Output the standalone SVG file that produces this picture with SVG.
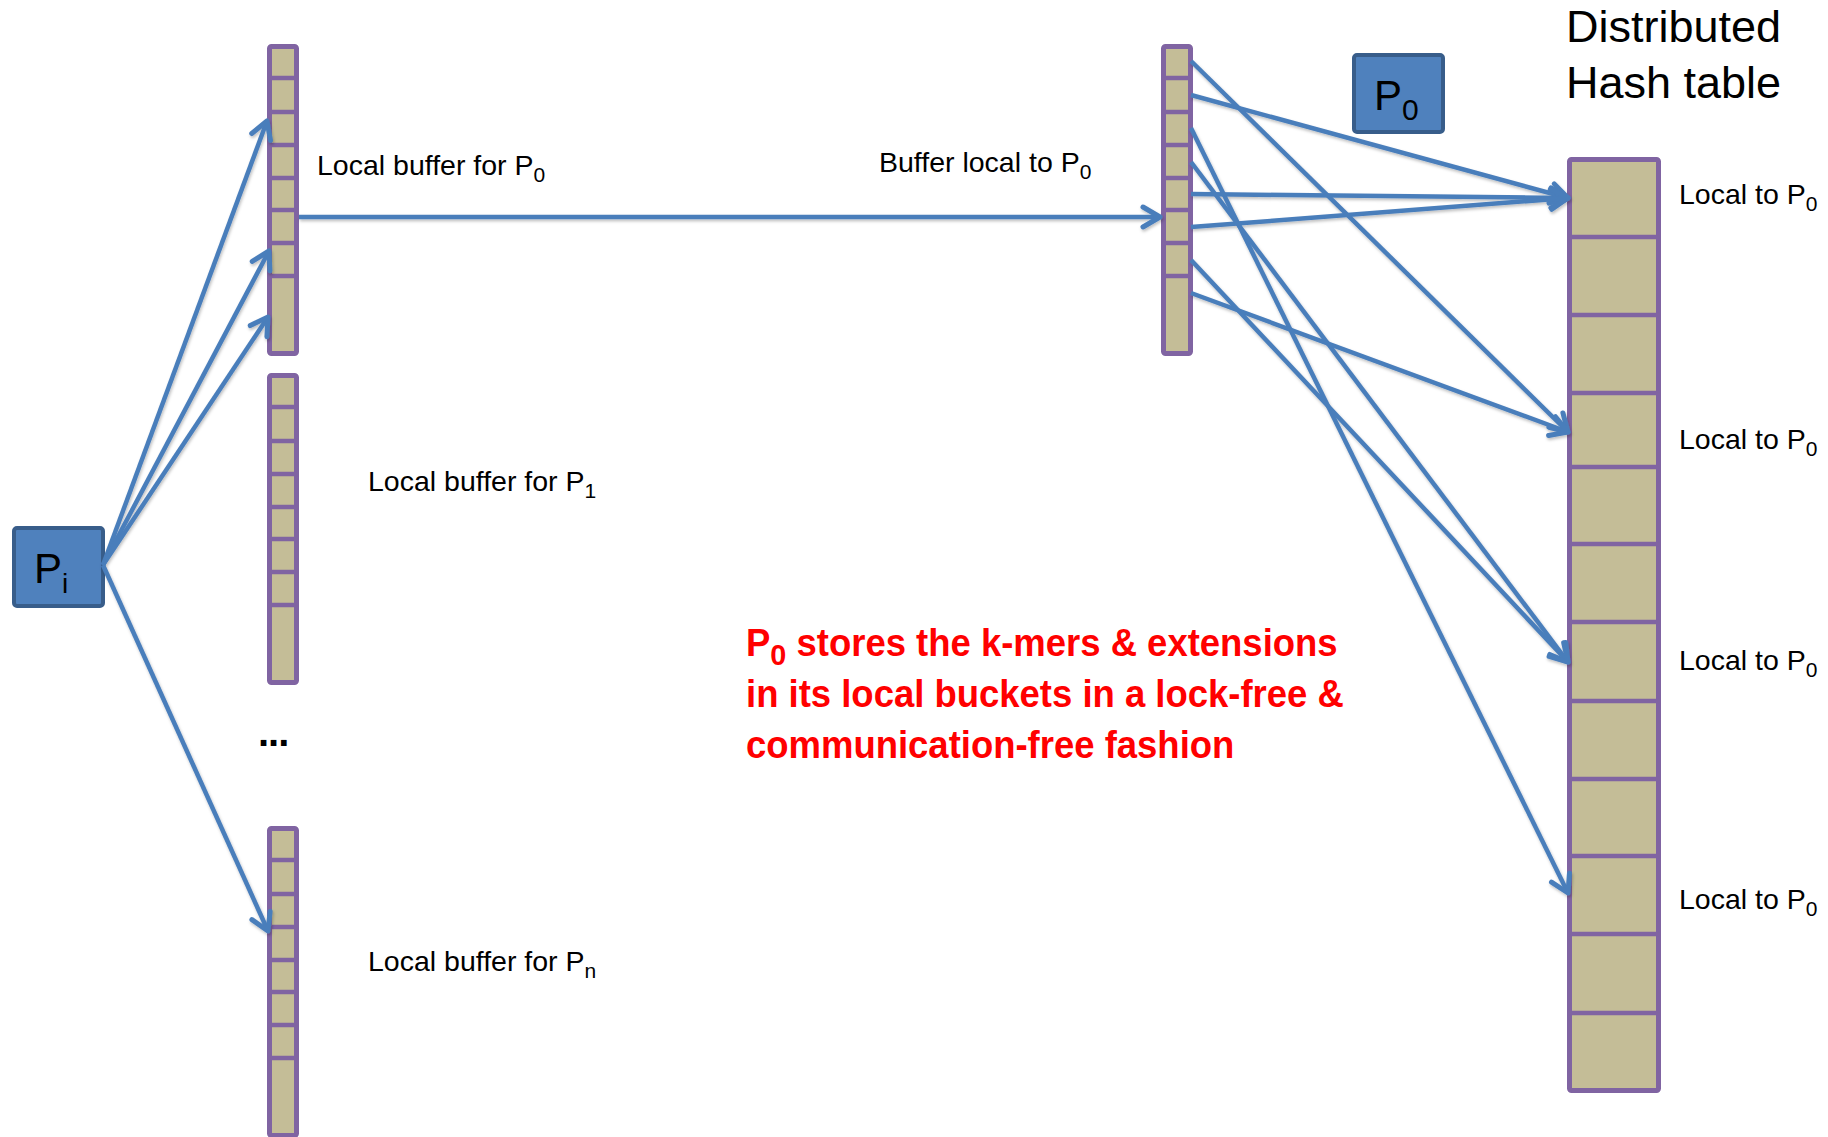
<svg xmlns="http://www.w3.org/2000/svg" xmlns:xlink="http://www.w3.org/1999/xlink" width="1828" height="1137" viewBox="0 0 1828 1137">
  <style>
    .buf { fill: #C4BD97; stroke: #8064A2; stroke-width: 5; }
    .div { stroke: #8064A2; stroke-width: 4.5; }
    .proc { fill: #4F81BD; stroke: #385D8A; stroke-width: 4; }
    .lbl { font-family: "Liberation Sans", Arial, sans-serif; font-size: 28.5px; fill: #000; }
    .big { font-family: "Liberation Sans", Arial, sans-serif; font-size: 45px; fill: #000; }
    .ptxt { font-family: "Liberation Sans", Arial, sans-serif; font-size: 42px; fill: #000; }
    .note { font-family: "Liberation Sans", Arial, sans-serif; font-size: 38px; font-weight: bold; fill: #FF0000; }
    .conn { fill: none; stroke: #4A7EBB; stroke-width: 4.5; marker-end: url(#open); }
  </style>
  <defs>
    <marker id="open" markerUnits="userSpaceOnUse" markerWidth="30" markerHeight="30" viewBox="-22 -15 30 30" refX="0" refY="0" orient="auto">
      <path d="M -17 -10 L 0 0 L -17 10" fill="none" stroke="#4A7EBB" stroke-width="5" stroke-linecap="round" stroke-linejoin="round"/>
    </marker>
    <filter id="shadow" x="-5%" y="-5%" width="110%" height="110%">
      <feDropShadow dx="1" dy="2" stdDeviation="1.5" flood-color="#000" flood-opacity="0.25"/>
    </filter>
    <!-- send buffer: seven small slots and one tall slot -->
    <g id="buffer">
      <rect class="buf" x="2.5" y="2.5" width="27" height="307" rx="2"/>
      <line class="div" x1="2.5" y1="34" x2="29.5" y2="34"/>
      <line class="div" x1="2.5" y1="68" x2="29.5" y2="68"/>
      <line class="div" x1="2.5" y1="101" x2="29.5" y2="101"/>
      <line class="div" x1="2.5" y1="134" x2="29.5" y2="134"/>
      <line class="div" x1="2.5" y1="166" x2="29.5" y2="166"/>
      <line class="div" x1="2.5" y1="199" x2="29.5" y2="199"/>
      <line class="div" x1="2.5" y1="232" x2="29.5" y2="232"/>
    </g>
  </defs>

  <rect width="1828" height="1137" fill="#FFFFFF"/>

  <!-- processor Pi -->
  <g id="proc-pi">
    <rect class="proc" x="14" y="528" width="89" height="78" rx="3"/>
    <text class="ptxt" x="34" y="583">P<tspan font-size="28" dy="10">i</tspan></text>
  </g>

  <!-- processor P0 -->
  <g id="proc-p0">
    <rect class="proc" x="1354" y="55" width="89" height="77" rx="3"/>
    <text class="ptxt" x="1374" y="110">P<tspan font-size="30" dy="10">0</tspan></text>
  </g>

  <!-- local send buffers on Pi -->
  <g id="buffer-p0">
    <use xlink:href="#buffer" x="267" y="44"/>
    <text class="lbl" x="317" y="175">Local buffer for P<tspan font-size="21" dy="7">0</tspan></text>
  </g>
  <g id="buffer-p1">
    <use xlink:href="#buffer" x="267" y="373"/>
    <text class="lbl" x="368" y="491">Local buffer for P<tspan font-size="21" dy="7">1</tspan></text>
  </g>
  <g id="ellipsis">
    <text x="258" y="746" font-family="Liberation Sans, Arial, sans-serif" font-size="40" font-weight="bold" fill="#000" letter-spacing="-1">...</text>
  </g>
  <g id="buffer-pn">
    <use xlink:href="#buffer" x="267" y="826"/>
    <text class="lbl" x="368" y="971">Local buffer for P<tspan font-size="21" dy="7">n</tspan></text>
  </g>

  <!-- receive buffer on P0 -->
  <g id="buffer-local-p0">
    <use xlink:href="#buffer" x="1161" y="44"/>
    <text class="lbl" x="879" y="172">Buffer local to P<tspan font-size="21" dy="7">0</tspan></text>
  </g>

  <!-- distributed hash table -->
  <g id="hash-table">
    <text class="big" x="1566" y="42">Distributed</text>
    <text class="big" x="1566" y="98">Hash table</text>
    <rect class="buf" x="1569.5" y="159.5" width="89" height="931" rx="2"/>
    <g class="div">
      <line x1="1569.5" y1="237" x2="1658.5" y2="237"/>
      <line x1="1569.5" y1="315" x2="1658.5" y2="315"/>
      <line x1="1569.5" y1="393" x2="1658.5" y2="393"/>
      <line x1="1569.5" y1="467" x2="1658.5" y2="467"/>
      <line x1="1569.5" y1="544" x2="1658.5" y2="544"/>
      <line x1="1569.5" y1="622" x2="1658.5" y2="622"/>
      <line x1="1569.5" y1="701" x2="1658.5" y2="701"/>
      <line x1="1569.5" y1="779" x2="1658.5" y2="779"/>
      <line x1="1569.5" y1="856" x2="1658.5" y2="856"/>
      <line x1="1569.5" y1="934" x2="1658.5" y2="934"/>
      <line x1="1569.5" y1="1013" x2="1658.5" y2="1013"/>
    </g>
    <text class="lbl" x="1679" y="204">Local to P<tspan font-size="21" dy="7">0</tspan></text>
    <text class="lbl" x="1679" y="449">Local to P<tspan font-size="21" dy="7">0</tspan></text>
    <text class="lbl" x="1679" y="670">Local to P<tspan font-size="21" dy="7">0</tspan></text>
    <text class="lbl" x="1679" y="909">Local to P<tspan font-size="21" dy="7">0</tspan></text>
  </g>

  <!-- explanation -->
  <g id="note" transform="translate(746 0) scale(0.96 1)">
    <text class="note" x="0" y="656">P<tspan font-size="30" dy="9">0</tspan><tspan dy="-9"> stores the k-mers &amp; extensions</tspan></text>
    <text class="note" x="0" y="707">in its local buckets in a lock-free &amp;</text>
    <text class="note" x="0" y="758">communication-free fashion</text>
  </g>

  <!-- connectors -->
  <g id="connectors" filter="url(#shadow)">
    <line class="conn" x1="103" y1="565" x2="267" y2="121"/>
    <line class="conn" x1="103" y1="565" x2="269" y2="251"/>
    <line class="conn" x1="103" y1="565" x2="268" y2="317"/>
    <line class="conn" x1="103" y1="565" x2="268" y2="931"/>
    <line class="conn" x1="299" y1="217" x2="1160" y2="217"/>
    <line class="conn" x1="1191" y1="61" x2="1568" y2="432"/>
    <line class="conn" x1="1191" y1="95" x2="1568" y2="198"/>
    <line class="conn" x1="1191" y1="128" x2="1568" y2="893"/>
    <line class="conn" x1="1191" y1="162" x2="1568" y2="662"/>
    <line class="conn" x1="1191" y1="194" x2="1568" y2="198"/>
    <line class="conn" x1="1191" y1="227" x2="1568" y2="198"/>
    <line class="conn" x1="1191" y1="260" x2="1568" y2="662"/>
    <line class="conn" x1="1191" y1="293" x2="1568" y2="432"/>
  </g>
</svg>
